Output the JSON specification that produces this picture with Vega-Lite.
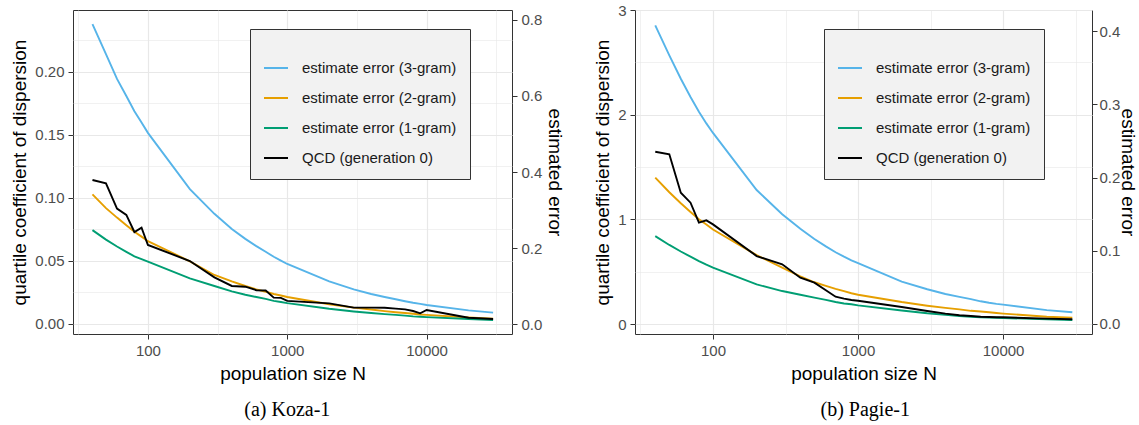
{
  "$schema": "https://vega.github.io/schema/vega-lite/v6.json",
  "padding": {"left": 10, "top": 2, "right": 0, "bottom": 0},
  "background": "white",
  "config": {
    "font": "Liberation Sans",
    "view": {"stroke": "#333333", "strokeWidth": 1},
    "axis": {
      "labelFontSize": 15, "labelColor": "#4d4d4d", "titleFontSize": 19, "titleFontWeight": "normal",
      "titleColor": "#000000", "tickColor": "#333333", "tickSize": 5, "labelPadding": 4, "domain": false,
      "gridColor": "#e8e8e8", "labelFlush": false, "labelOverlap": false
    },
    "legend": {"strokeWidth": 1}
  },
  "datasets": {
    "d": [
      {"p": "a", "N": 40, "e3": 0.789, "e2": 0.341, "e1": 0.247, "qcd": 0.1143},
      {"p": "a", "N": 50, "e3": 0.710, "e2": 0.305, "e1": 0.222, "qcd": 0.1117},
      {"p": "a", "N": 60, "e3": 0.645, "e2": 0.280, "e1": 0.204, "qcd": 0.0916},
      {"p": "a", "N": 70, "e3": 0.600, "e2": 0.260, "e1": 0.190, "qcd": 0.0866},
      {"p": "a", "N": 80, "e3": 0.560, "e2": 0.243, "e1": 0.178, "qcd": 0.0730},
      {"p": "a", "N": 90, "e3": 0.530, "e2": 0.230, "e1": 0.171, "qcd": 0.0765},
      {"p": "a", "N": 100, "e3": 0.503, "e2": 0.218, "e1": 0.164, "qcd": 0.0627},
      {"p": "a", "N": 200, "e3": 0.355, "e2": 0.165, "e1": 0.120, "qcd": 0.0500},
      {"p": "a", "N": 300, "e3": 0.290, "e2": 0.129, "e1": 0.100, "qcd": 0.0370},
      {"p": "a", "N": 400, "e3": 0.250, "e2": 0.112, "e1": 0.086, "qcd": 0.0302},
      {"p": "a", "N": 500, "e3": 0.224, "e2": 0.100, "e1": 0.077, "qcd": 0.0296},
      {"p": "a", "N": 600, "e3": 0.205, "e2": 0.091, "e1": 0.071, "qcd": 0.0268},
      {"p": "a", "N": 700, "e3": 0.190, "e2": 0.085, "e1": 0.066, "qcd": 0.0266},
      {"p": "a", "N": 800, "e3": 0.177, "e2": 0.079, "e1": 0.061, "qcd": 0.0209},
      {"p": "a", "N": 900, "e3": 0.167, "e2": 0.075, "e1": 0.058, "qcd": 0.0207},
      {"p": "a", "N": 1000, "e3": 0.158, "e2": 0.071, "e1": 0.055, "qcd": 0.0183},
      {"p": "a", "N": 2000, "e3": 0.112, "e2": 0.052, "e1": 0.040, "qcd": 0.0164},
      {"p": "a", "N": 3000, "e3": 0.091, "e2": 0.043, "e1": 0.033, "qcd": 0.0130},
      {"p": "a", "N": 4000, "e3": 0.079, "e2": 0.038, "e1": 0.029, "qcd": 0.0130},
      {"p": "a", "N": 5000, "e3": 0.071, "e2": 0.034, "e1": 0.026, "qcd": 0.0129},
      {"p": "a", "N": 6000, "e3": 0.065, "e2": 0.031, "e1": 0.024, "qcd": 0.0122},
      {"p": "a", "N": 7000, "e3": 0.060, "e2": 0.029, "e1": 0.022, "qcd": 0.0116},
      {"p": "a", "N": 8000, "e3": 0.056, "e2": 0.027, "e1": 0.020, "qcd": 0.0103},
      {"p": "a", "N": 9000, "e3": 0.053, "e2": 0.025, "e1": 0.019, "qcd": 0.0085},
      {"p": "a", "N": 10000, "e3": 0.050, "e2": 0.024, "e1": 0.018, "qcd": 0.0111},
      {"p": "a", "N": 20000, "e3": 0.036, "e2": 0.017, "e1": 0.013, "qcd": 0.0050},
      {"p": "a", "N": 30000, "e3": 0.030, "e2": 0.014, "e1": 0.0105, "qcd": 0.0040},
      {"p": "b", "N": 40, "e3": 0.408, "e2": 0.200, "e1": 0.120, "qcd": 1.646},
      {"p": "b", "N": 50, "e3": 0.367, "e2": 0.180, "e1": 0.108, "qcd": 1.621},
      {"p": "b", "N": 60, "e3": 0.335, "e2": 0.165, "e1": 0.099, "qcd": 1.254},
      {"p": "b", "N": 70, "e3": 0.310, "e2": 0.153, "e1": 0.092, "qcd": 1.159},
      {"p": "b", "N": 80, "e3": 0.290, "e2": 0.143, "e1": 0.086, "qcd": 0.968},
      {"p": "b", "N": 90, "e3": 0.274, "e2": 0.136, "e1": 0.081, "qcd": 0.990},
      {"p": "b", "N": 100, "e3": 0.261, "e2": 0.129, "e1": 0.077, "qcd": 0.952},
      {"p": "b", "N": 200, "e3": 0.183, "e2": 0.094, "e1": 0.054, "qcd": 0.649},
      {"p": "b", "N": 300, "e3": 0.150, "e2": 0.077, "e1": 0.045, "qcd": 0.570},
      {"p": "b", "N": 400, "e3": 0.130, "e2": 0.065, "e1": 0.040, "qcd": 0.442},
      {"p": "b", "N": 500, "e3": 0.116, "e2": 0.057, "e1": 0.036, "qcd": 0.395},
      {"p": "b", "N": 600, "e3": 0.106, "e2": 0.052, "e1": 0.033, "qcd": 0.322},
      {"p": "b", "N": 700, "e3": 0.098, "e2": 0.048, "e1": 0.030, "qcd": 0.261},
      {"p": "b", "N": 800, "e3": 0.092, "e2": 0.045, "e1": 0.028, "qcd": 0.242},
      {"p": "b", "N": 900, "e3": 0.087, "e2": 0.042, "e1": 0.027, "qcd": 0.229},
      {"p": "b", "N": 1000, "e3": 0.083, "e2": 0.040, "e1": 0.0255, "qcd": 0.222},
      {"p": "b", "N": 2000, "e3": 0.058, "e2": 0.030, "e1": 0.0185, "qcd": 0.162},
      {"p": "b", "N": 3000, "e3": 0.0475, "e2": 0.025, "e1": 0.0146, "qcd": 0.124},
      {"p": "b", "N": 4000, "e3": 0.041, "e2": 0.022, "e1": 0.0125, "qcd": 0.099},
      {"p": "b", "N": 5000, "e3": 0.037, "e2": 0.020, "e1": 0.011, "qcd": 0.083},
      {"p": "b", "N": 6000, "e3": 0.034, "e2": 0.018, "e1": 0.010, "qcd": 0.076},
      {"p": "b", "N": 7000, "e3": 0.031, "e2": 0.017, "e1": 0.0093, "qcd": 0.070},
      {"p": "b", "N": 8000, "e3": 0.029, "e2": 0.016, "e1": 0.0088, "qcd": 0.067},
      {"p": "b", "N": 9000, "e3": 0.0275, "e2": 0.015, "e1": 0.0085, "qcd": 0.065},
      {"p": "b", "N": 10000, "e3": 0.0265, "e2": 0.0142, "e1": 0.0082, "qcd": 0.064},
      {"p": "b", "N": 20000, "e3": 0.019, "e2": 0.010, "e1": 0.0063, "qcd": 0.051},
      {"p": "b", "N": 30000, "e3": 0.016, "e2": 0.0087, "e1": 0.0055, "qcd": 0.045}
    ]
  },
  "data": {"name": "d"},
  "spacing": 28,
  "resolve": {"scale": {"color": "independent"}, "legend": {"color": "independent"}},
  "hconcat": [
    {
      "width": 439, "height": 324,
      "title": {"text": "(a) Koza-1", "orient": "bottom", "frame": "bounds", "anchor": "middle", "font": "Liberation Serif", "fontSize": 20, "fontWeight": "normal", "color": "#000000", "offset": 17},
      "transform": [{"filter": "datum.p == 'a'"}],
      "layer": [
        {
          "transform": [{"fold": ["e3", "e2", "e1"], "as": ["series", "value"]}],
          "mark": {"type": "line", "strokeWidth": 1.9},
          "encoding": {
            "x": {"field": "N", "type": "quantitative", "scale": {"type": "log", "domain": [29, 41000], "nice": false},
              "axis": {"title": "population size N", "titlePadding": 6, "values": [31.6228, 100, 316.228, 1000, 3162.28, 10000, 31622.8],
                "labelExpr": "(datum.value == 100 || datum.value == 1000 || datum.value == 10000) ? format(datum.value, 'd') : ''",
                "gridWidth": {"condition": {"test": "datum.value == 100 || datum.value == 1000 || datum.value == 10000", "value": 1.2}, "value": 0.6},
                "tickOpacity": {"condition": {"test": "datum.value == 100 || datum.value == 1000 || datum.value == 10000", "value": 1}, "value": 0}}},
            "y": {"field": "value", "type": "quantitative", "scale": {"domain": [-0.0263, 0.8263], "nice": false, "zero": false},
              "axis": {"orient": "right", "title": "estimated error", "values": [0, 0.2, 0.4, 0.6, 0.8], "format": ".1f", "grid": false, "titlePadding": 3}},
            "color": {"field": "series", "type": "nominal",
              "scale": {"domain": ["e3", "e2", "e1", "qcd"], "range": ["#56B4E9", "#E69F00", "#009E73", "#000000"]},
              "legend": {"orient": "none", "legendX": 177, "legendY": 19, "title": " ", "titleFontSize": 10, "titlePadding": 3,
                "labelExpr": "datum.label == 'e3' ? 'estimate error (3-gram)' : datum.label == 'e2' ? 'estimate error (2-gram)' : datum.label == 'e1' ? 'estimate error (1-gram)' : 'QCD (generation 0)'",
                "symbolType": "stroke", "symbolSize": 576, "symbolStrokeWidth": 2, "labelFontSize": 15, "labelColor": "#1a1a1a",
                "labelOffset": 13, "rowPadding": 9, "padding": 13, "fillColor": "#f2f2f2", "strokeColor": "#333333", "labelLimit": 300}}
          }
        },
        {
          "transform": [{"fold": ["qcd"], "as": ["series", "value"]}],
          "mark": {"type": "line", "strokeWidth": 1.9},
          "encoding": {
            "x": {"field": "N", "type": "quantitative", "scale": {"type": "log", "domain": [29, 41000], "nice": false}},
            "y": {"field": "value", "type": "quantitative", "scale": {"domain": [-0.00794, 0.2492], "nice": false, "zero": false},
              "axis": {"orient": "left", "title": "quartile coefficient of dispersion", "titlePadding": 5, "grid": true,
                "values": [0, 0.025, 0.05, 0.075, 0.1, 0.125, 0.15, 0.175, 0.2, 0.225],
                "labelExpr": "round(datum.value * 1000) % 50 == 0 ? format(datum.value, '.2f') : ''",
                "gridWidth": {"condition": {"test": "round(datum.value * 1000) % 50 == 0", "value": 1.2}, "value": 0.6},
                "tickOpacity": {"condition": {"test": "round(datum.value * 1000) % 50 == 0", "value": 1}, "value": 0}}},
            "color": {"field": "series", "type": "nominal",
              "scale": {"domain": ["e3", "e2", "e1", "qcd"], "range": ["#56B4E9", "#E69F00", "#009E73", "#000000"]}}
          }
        }
      ],
      "resolve": {"scale": {"y": "independent"}}
    },
    {
      "width": 457, "height": 324,
      "title": {"text": "(b) Pagie-1", "orient": "bottom", "frame": "bounds", "anchor": "middle", "font": "Liberation Serif", "fontSize": 20, "fontWeight": "normal", "color": "#000000", "offset": 17},
      "transform": [{"filter": "datum.p == 'b'"}],
      "layer": [
        {
          "transform": [{"fold": ["e3", "e2", "e1"], "as": ["series", "value"]}],
          "mark": {"type": "line", "strokeWidth": 1.9},
          "encoding": {
            "x": {"field": "N", "type": "quantitative", "scale": {"type": "log", "domain": [29, 41000], "nice": false},
              "axis": {"title": "population size N", "titlePadding": 6, "values": [31.6228, 100, 316.228, 1000, 3162.28, 10000, 31622.8],
                "labelExpr": "(datum.value == 100 || datum.value == 1000 || datum.value == 10000) ? format(datum.value, 'd') : ''",
                "gridWidth": {"condition": {"test": "datum.value == 100 || datum.value == 1000 || datum.value == 10000", "value": 1.2}, "value": 0.6},
                "tickOpacity": {"condition": {"test": "datum.value == 100 || datum.value == 1000 || datum.value == 10000", "value": 1}, "value": 0}}},
            "y": {"field": "value", "type": "quantitative", "scale": {"domain": [-0.01366, 0.4289], "nice": false, "zero": false},
              "axis": {"orient": "right", "title": "estimated error", "values": [0, 0.1, 0.2, 0.3, 0.4], "format": ".1f", "grid": false, "titlePadding": -2, "labelPadding": 2}},
            "color": {"field": "series", "type": "nominal",
              "scale": {"domain": ["e3", "e2", "e1", "qcd"], "range": ["#56B4E9", "#E69F00", "#009E73", "#000000"]},
              "legend": {"orient": "none", "legendX": 189, "legendY": 19, "title": " ", "titleFontSize": 10, "titlePadding": 3,
                "labelExpr": "datum.label == 'e3' ? 'estimate error (3-gram)' : datum.label == 'e2' ? 'estimate error (2-gram)' : datum.label == 'e1' ? 'estimate error (1-gram)' : 'QCD (generation 0)'",
                "symbolType": "stroke", "symbolSize": 576, "symbolStrokeWidth": 2, "labelFontSize": 15, "labelColor": "#1a1a1a",
                "labelOffset": 13, "rowPadding": 9, "padding": 13, "fillColor": "#f2f2f2", "strokeColor": "#333333", "labelLimit": 300}}
          }
        },
        {
          "transform": [{"fold": ["qcd"], "as": ["series", "value"]}],
          "mark": {"type": "line", "strokeWidth": 1.9},
          "encoding": {
            "x": {"field": "N", "type": "quantitative", "scale": {"type": "log", "domain": [29, 41000], "nice": false}},
            "y": {"field": "value", "type": "quantitative", "scale": {"domain": [-0.0955, 3.0], "nice": false, "zero": false},
              "axis": {"orient": "left", "title": "quartile coefficient of dispersion", "titlePadding": 5, "grid": true,
                "values": [0, 0.5, 1, 1.5, 2, 2.5, 3],
                "labelExpr": "datum.value % 1 == 0 ? format(datum.value, 'd') : ''",
                "gridWidth": {"condition": {"test": "datum.value % 1 == 0", "value": 1.2}, "value": 0.6},
                "tickOpacity": {"condition": {"test": "datum.value % 1 == 0", "value": 1}, "value": 0}}},
            "color": {"field": "series", "type": "nominal",
              "scale": {"domain": ["e3", "e2", "e1", "qcd"], "range": ["#56B4E9", "#E69F00", "#009E73", "#000000"]}}
          }
        }
      ],
      "resolve": {"scale": {"y": "independent"}}
    }
  ]
}
